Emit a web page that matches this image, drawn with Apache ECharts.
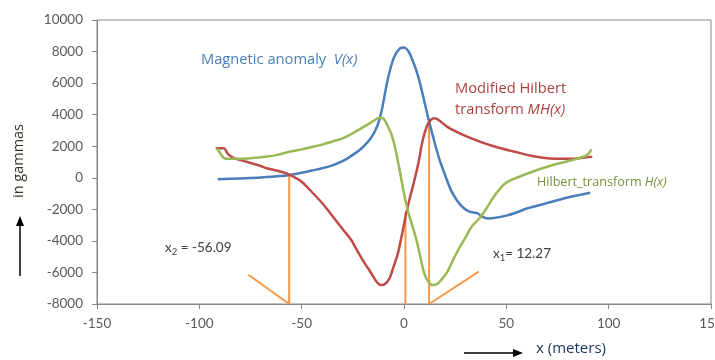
<!DOCTYPE html>
<html>
<head>
<meta charset="utf-8">
<script src="https://cdn.jsdelivr.net/npm/echarts@6/dist/echarts.min.js"></script>
<style>html,body{margin:0;padding:0;background:#fff}#c{width:715px;height:360px}</style>
</head>
<body>
<div id="c"></div>
<script>
// ---- data ----
const vX = [-91,-80,-70,-60,-56,-50,-45,-40,-35,-30,-25,-20,-16,-13,-11,-8,-5,-2,0,2,4,6,8,10,12,14,17,20,23,26,29,32,34,36,38,41,44,50,55,60,70,80,91];
const vY = [-100,-40,20,110,180,320,460,600,790,1050,1450,1950,2550,3300,4200,6200,7600,8200,8250,8050,7500,6800,5900,4800,3700,2700,1300,200,-800,-1450,-1900,-2150,-2200,-2250,-2450,-2580,-2550,-2400,-2200,-1950,-1600,-1250,-950];

const mhX = [-92,-88,-86,-83,-77,-70,-67,-60,-56,-50,-46,-40,-36,-30,-26,-23,-20,-16,-13,-11,-9,-7,-5,-3,-1,1,3,5,7,9,11,13,15,18,21,25,30,37,45,54,62,70,78,84,92];
const mhY = [1870,1870,1500,1250,1020,750,600,380,200,-250,-770,-1600,-2250,-3250,-3900,-4580,-5250,-6050,-6650,-6800,-6700,-6350,-5600,-4800,-3600,-2300,-1200,-200,900,2300,3200,3650,3770,3550,3240,2950,2650,2290,1950,1650,1400,1240,1200,1220,1340];

const hX = [-91.5,-90,-88,-84,-80,-74,-68,-62,-56,-50,-45,-40,-35,-30,-26,-22,-18,-15,-12,-10,-8,-6,-4,-2,0,2,4,6,8,10,12,14,16,18,21,24,27,30,33,37,40,45,50,57,63,70,77,83,88,90,91.5];
const hY = [1870,1600,1250,1200,1200,1250,1330,1450,1650,1800,1950,2100,2300,2500,2750,3050,3350,3600,3800,3750,3300,2700,1700,400,-1000,-2150,-3000,-3900,-5000,-6100,-6600,-6800,-6750,-6500,-6000,-5200,-4450,-3800,-3100,-2550,-2000,-1000,-300,100,400,700,950,1150,1350,1500,1800];

const x2 = -56.09, x1 = 12.27;
const guideX2 = [[x2,-8000],[x2,180]];
const guideX2Diag = [[x2,-8000],[-76,-6150]];
const guideZero = [[0.7,-8000],[0.7,-2200]];
const guideX1 = [[x1,-8000],[x1,3500]];
const guideX1Diag = [[x1,-8000],[36.5,-5950]];

const xTicks = {min:-150, max:150, interval:50};
const yTicks = {min:-8000, max:10000, interval:2000};

const zip = (a,b) => a.map((v,i)=>[v,b[i]]);
const FONT = '"Open Sans", Lato, sans-serif';
const FONT2 = 'Lato, "Open Sans", sans-serif';

const chart = echarts.init(document.getElementById('c'), null, {renderer:'canvas'});
const orange = '#F79646';
const guide = d => ({type:'line', data:d, symbol:'none', silent:true, lineStyle:{color:orange, width:2}, z:1});

chart.setOption({
  animation:false,
  backgroundColor:'#fff',
  textStyle:{fontFamily:FONT},
  grid:{left:97, right:4, top:20, bottom:56, show:true, borderColor:'#868686', borderWidth:1, containLabel:false, outerBoundsMode:'none'},
  xAxis:{type:'value', min:xTicks.min, max:xTicks.max, interval:xTicks.interval,
    axisLine:{show:true, onZero:false, lineStyle:{color:'#868686'}},
    axisTick:{show:true, length:5, lineStyle:{color:'#868686'}},
    splitLine:{show:false},
    axisLabel:{color:'#595959', fontSize:13.5, margin:13, fontFamily:FONT2, formatter:v=>String(v), hideOverlap:false}},
  yAxis:{type:'value', min:yTicks.min, max:yTicks.max, interval:yTicks.interval,
    axisLine:{show:true, onZero:false, lineStyle:{color:'#868686'}},
    axisTick:{show:true, length:5, lineStyle:{color:'#868686'}},
    splitLine:{show:false},
    axisLabel:{color:'#595959', fontSize:13.5, margin:14, fontFamily:FONT2, formatter:v=>String(v)}},
  series:[
    guide(guideX2), guide(guideX2Diag), guide(guideZero), guide(guideX1), guide(guideX1Diag),
    {type:'line', name:'V', data:zip(vX,vY), symbol:'none', smooth:0.3, lineStyle:{color:'#4A7EBB', width:2.5}, z:3},
    {type:'line', name:'MH', data:zip(mhX,mhY), symbol:'none', smooth:0.3, lineStyle:{color:'#BE4B48', width:2.5}, z:3},
    {type:'line', name:'H', data:zip(hX,hY), symbol:'none', smooth:0.3, lineStyle:{color:'#98B954', width:2.5}, z:3}
  ],
  graphic:[
    {type:'text', left:201, top:52, style:{text:'{n|Magnetic anomaly  }{i|V(x)}', rich:{n:{fontSize:14.7, fill:'#4A7EBB', fontFamily:FONT}, i:{fontSize:14.7, fill:'#4A7EBB', fontStyle:'italic', fontFamily:FONT}}}},
    {type:'text', left:455, top:81, style:{text:'Modified Hilbert', fontSize:14.7, fill:'#A9433F', fontFamily:FONT}},
    {type:'text', left:455, top:102, style:{text:'{n|transform }{i|MH(x)}', rich:{n:{fontSize:14.7, fill:'#A9433F', fontFamily:FONT}, i:{fontSize:14.7, fill:'#A9433F', fontStyle:'italic', fontFamily:FONT}}}},
    {type:'text', left:537, top:176, style:{text:'{n|Hilbert_transform }{i|H(x)}', rich:{n:{fontSize:12.6, fill:'#76923C', fontFamily:FONT}, i:{fontSize:12.6, fill:'#76923C', fontStyle:'italic', fontFamily:FONT}}}},
    {type:'text', left:165, top:241, style:{text:'{n|x}{s|2}{n| = -56.09}', rich:{n:{fontSize:13.5, fill:'#404040', fontFamily:FONT2}, s:{fontSize:9.5, fill:'#404040', padding:[8,0,0,0], fontFamily:FONT2}}}},
    {type:'text', left:493, top:247, style:{text:'{n|x}{s|1}{n|= 12.27}', rich:{n:{fontSize:13.5, fill:'#404040', fontFamily:FONT2}, s:{fontSize:9.5, fill:'#404040', padding:[8,0,0,0], fontFamily:FONT2}}}},
    {type:'text', x:19, y:161, rotation:Math.PI/2, style:{text:'in gammas', fontSize:14.5, fill:'#3B2E25', align:'center', verticalAlign:'middle', fontFamily:FONT}},
    {type:'line', shape:{x1:20, y1:276, x2:20, y2:224}, style:{stroke:'#000', lineWidth:1.5}},
    {type:'polygon', shape:{points:[[20,216],[16,226],[24,226]]}, style:{fill:'#000'}},
    {type:'text', left:536, top:341, style:{text:'x (meters)', fontSize:15, fill:'#17365D', fontFamily:FONT}},
    {type:'line', shape:{x1:464, y1:353, x2:514, y2:353}, style:{stroke:'#000', lineWidth:1.5}},
    {type:'polygon', shape:{points:[[523,353],[513,349],[513,357]]}, style:{fill:'#000'}}
  ]
});
</script>
</body>
</html>
